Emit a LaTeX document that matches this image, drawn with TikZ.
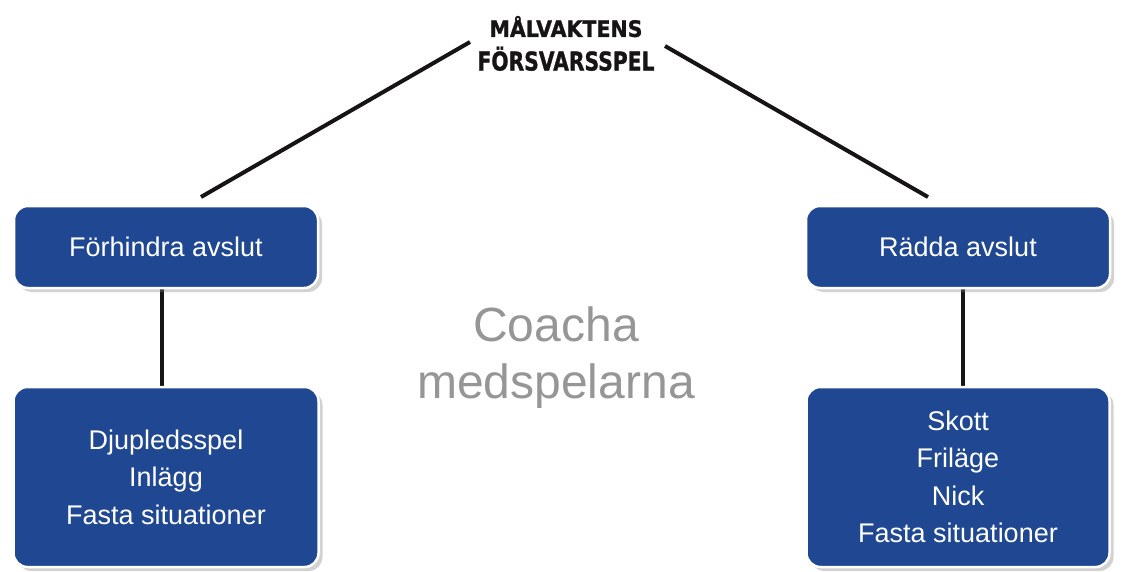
\documentclass[tikz,border=0pt]{standalone}
\usepackage{fontspec}
\setmainfont{Liberation Sans}
\newfontfamily\titlefont[BoldFeatures={FakeBold=1.2}]{DejaVu Sans}
\usetikzlibrary{shadows}
\definecolor{boxblue}{RGB}{32,71,145}
\definecolor{coachgray}{RGB}{150,150,150}
\definecolor{linedark}{RGB}{22,20,20}
\pgfdeclarelayer{back}
\pgfsetlayers{back,main}
\begin{document}
\begin{tikzpicture}[x=1pt,y=-1pt,
  bluebox/.style={rectangle, rounded corners=14pt, fill=boxblue, draw=white, line width=2.5pt,
    text=white, font=\fontsize{27}{37.5}\selectfont, align=center, inner sep=0pt,
    drop shadow={opacity=0.35, shadow xshift=4pt, shadow yshift=-4pt}},
  link/.style={draw=linedark, line width=4pt}]
\useasboundingbox (0,0) rectangle (1123,571);
\begin{pgfonlayer}{back}
\fill[white] (0,0) rectangle (1123,571);
\end{pgfonlayer}
% title
\node[inner sep=0pt, text=linedark] (title) at (566,45) {\titlefont\bfseries
  \begin{tabular}{@{}c@{}}
  \resizebox{153pt}{21pt}{MÅLVAKTENS}\\[6pt]
  \resizebox{177pt}{24pt}{FÖRSVARSSPEL}
  \end{tabular}};
% nodes
\node[bluebox, minimum width=304pt, minimum height=82pt] (L1) at (166,247) {Förhindra avslut};
\node[bluebox, minimum width=304pt, minimum height=82pt] (R1) at (958,247) {Rädda avslut};
\node[bluebox, minimum width=305pt, minimum height=180pt] (L2) at (166,477) {Djupledsspel\\Inlägg\\Fasta situationer};
\node[bluebox, minimum width=303pt, minimum height=180pt] (R2) at (958,477) {Skott\\Friläge\\Nick\\Fasta situationer};
\node[text=coachgray, font=\fontsize{48}{57}\selectfont, align=center] (coach) at (556,358) {Coacha\\medspelarna};
% connector free ends
\coordinate (tl) at (470,42);
\coordinate (tr) at (665,46);
\coordinate (l1top) at (201,197);
\coordinate (r1top) at (928,197);
\begin{pgfonlayer}{back}
\draw[link] (tl) -- (l1top);
\draw[link] (tr) -- (r1top);
\draw[link] ([xshift=-4pt]L1.south) -- ([xshift=-4pt]L2.north);
\draw[link] ([xshift=5pt]R1.south) -- ([xshift=5pt]R2.north);
\end{pgfonlayer}
\end{tikzpicture}
\end{document}
